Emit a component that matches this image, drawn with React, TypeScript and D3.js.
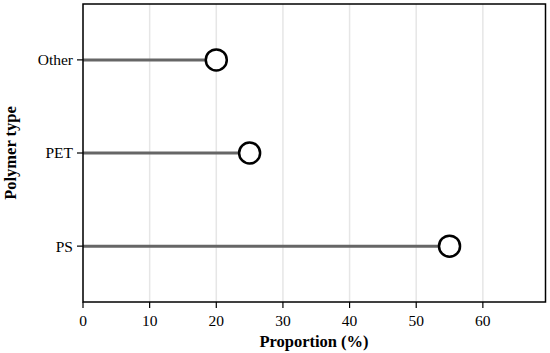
import React from "react";
import * as d3 from "d3";

const categories = ["Other", "PET", "PS"];
const values = [20, 25, 55];
const xTicks = [0, 10, 20, 30, 40, 50, 60];

const W = 550, H = 353;
const m = { left: 83, top: 4, right: 4.5, bottom: 51 };

export default function App() {
  const x = d3.scaleLinear().domain([0, 69.4]).range([m.left, W - m.right]);
  const y = d3.scalePoint<string>().domain(categories).range([m.top, H - m.bottom]).padding(0.6);
  const font = "'Liberation Serif', serif";
  return (
    <svg width={W} height={H} style={{ position: "absolute", left: 0, top: 0, background: "#fff" }}>
      {xTicks.map(t => (
        <line key={"g" + t} x1={x(t)} x2={x(t)} y1={m.top} y2={H - m.bottom} stroke="#e6e6e6" strokeWidth={1.5} />
      ))}
      {categories.map((c, i) => (
        <line key={"l" + c} x1={x(0)} x2={x(values[i])} y1={y(c)} y2={y(c)} stroke="#666" strokeWidth={3} />
      ))}
      {categories.map((c, i) => (
        <circle key={"c" + c} cx={x(values[i])} cy={y(c)} r={10.5} fill="#fff" stroke="#000" strokeWidth={2.5} />
      ))}
      <rect x={m.left} y={m.top} width={W - m.right - m.left} height={H - m.bottom - m.top} fill="none" stroke="#000" strokeWidth={1.5} />
      {xTicks.map(t => (
        <g key={"t" + t}>
          <line x1={x(t)} x2={x(t)} y1={H - m.bottom} y2={H - m.bottom + 6} stroke="#000" strokeWidth={1.2} />
          <text x={x(t)} y={H - m.bottom + 24} textAnchor="middle" fontFamily={font} fontSize={15.5}>{t}</text>
        </g>
      ))}
      {categories.map(c => (
        <g key={"y" + c}>
          <line x1={m.left - 6} x2={m.left} y1={y(c)} y2={y(c)} stroke="#000" strokeWidth={1.2} />
          <text x={m.left - 10} y={y(c)} dy="0.35em" textAnchor="end" fontFamily={font} fontSize={15.5}>{c}</text>
        </g>
      ))}
      <text x={314} y={347} textAnchor="middle" fontFamily={font} fontSize={16.5} fontWeight="bold">Proportion (%)</text>
      <text transform={`translate(16, ${(m.top + H - m.bottom) / 2}) rotate(-90)`} textAnchor="middle" fontFamily={font} fontSize={16.5} fontWeight="bold">Polymer type</text>
    </svg>
  );
}
